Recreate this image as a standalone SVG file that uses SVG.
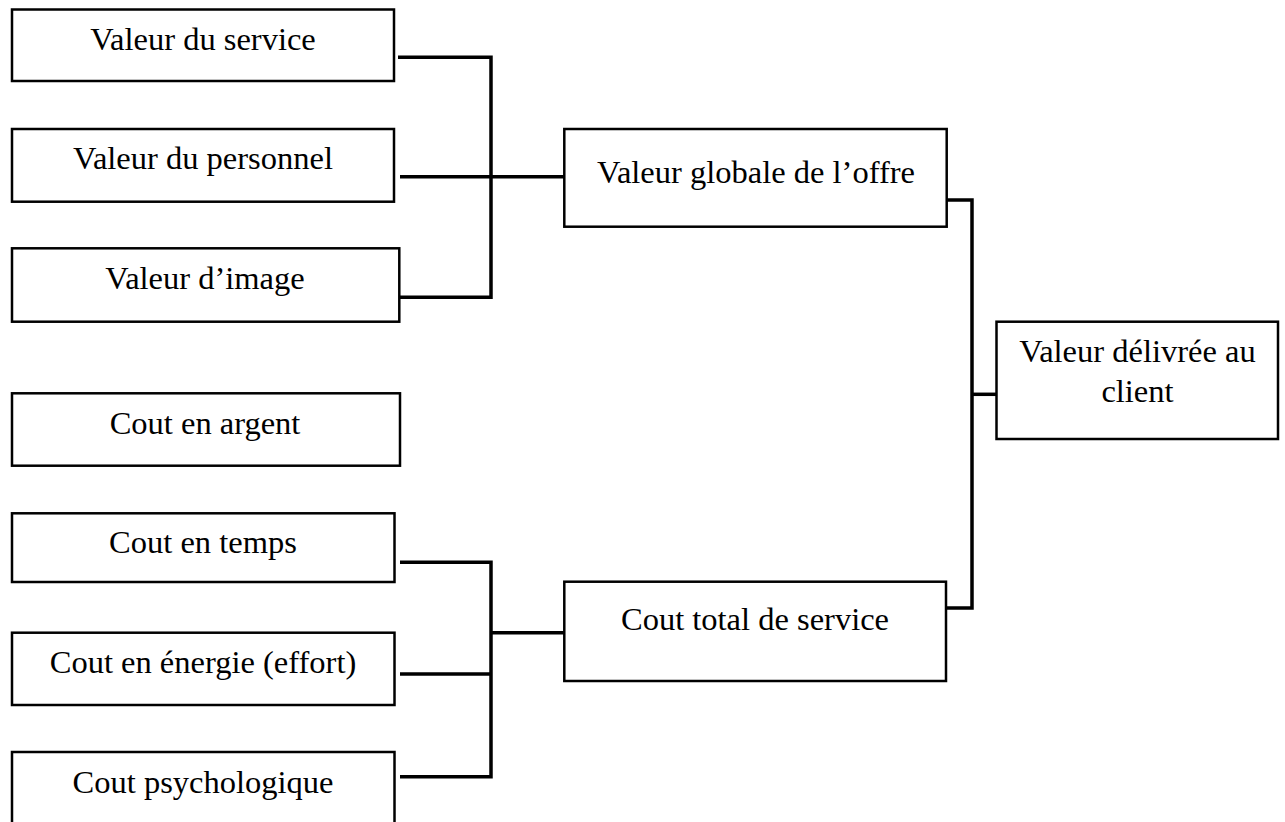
<svg xmlns="http://www.w3.org/2000/svg" width="1285" height="822" viewBox="0 0 1285 822">
  <style>
    .box { fill: #ffffff; stroke: #000000; stroke-width: 2.5; }
    .lbl { font-family: "Liberation Serif", "Times New Roman", serif; font-size: 32.5px; fill: #000000; text-anchor: middle; }
    .wire { fill: none; stroke: #000000; stroke-width: 3.5; stroke-linecap: butt; stroke-linejoin: miter; }
  </style>
  <rect width="1285" height="822" fill="#ffffff"/>

  <!-- connectors -->
  <g id="connectors">
    <!-- value components to overall offer value -->
    <path class="wire" d="M398 57.3 H491 V297.3 H400"/>
    <path class="wire" d="M400 176.7 H565"/>
    <!-- cost components to total service cost -->
    <path class="wire" d="M400 562.3 H491 V776.7 H400"/>
    <path class="wire" d="M400 674 H491"/>
    <path class="wire" d="M491 632.7 H565"/>
    <!-- offer value and total cost to delivered value -->
    <path class="wire" d="M947 200 H972 V608 H946"/>
    <path class="wire" d="M972 394.3 H997"/>
  </g>

  <g id="valeur-service">
    <rect class="box" x="12" y="9.5" width="382" height="71.5"/>
    <text class="lbl" x="203" y="50">Valeur du service</text>
  </g>
  <g id="valeur-personnel">
    <rect class="box" x="12" y="129" width="382" height="72.7"/>
    <text class="lbl" x="203" y="168.5">Valeur du personnel</text>
  </g>
  <g id="valeur-image">
    <rect class="box" x="12" y="248.3" width="387.3" height="73.4"/>
    <text class="lbl" x="205" y="288.5">Valeur d’image</text>
  </g>
  <g id="cout-argent">
    <rect class="box" x="12" y="393.3" width="388" height="72.4"/>
    <text class="lbl" x="205" y="434">Cout en argent</text>
  </g>
  <g id="cout-temps">
    <rect class="box" x="12" y="513.3" width="382.5" height="68.7"/>
    <text class="lbl" x="203" y="553.3">Cout en temps</text>
  </g>
  <g id="cout-energie">
    <rect class="box" x="12" y="632.7" width="382.5" height="72.3"/>
    <text class="lbl" x="203" y="672.7">Cout en énergie (effort)</text>
  </g>
  <g id="cout-psychologique">
    <rect class="box" x="12" y="752" width="382.5" height="80"/>
    <text class="lbl" x="203" y="792.7">Cout psychologique</text>
  </g>
  <g id="valeur-globale">
    <rect class="box" x="564.3" y="129" width="382.4" height="97.7"/>
    <text class="lbl" x="756" y="183.3">Valeur globale de l’offre</text>
  </g>
  <g id="cout-total">
    <rect class="box" x="564.3" y="581.7" width="381.7" height="99.3"/>
    <text class="lbl" x="755" y="630">Cout total de service</text>
  </g>
  <g id="valeur-delivree">
    <rect class="box" x="996.5" y="321.7" width="281.5" height="117.3"/>
    <text class="lbl" x="1137.5" y="361.7">Valeur délivrée au</text>
    <text class="lbl" x="1137.5" y="402.3">client</text>
  </g>
</svg>
